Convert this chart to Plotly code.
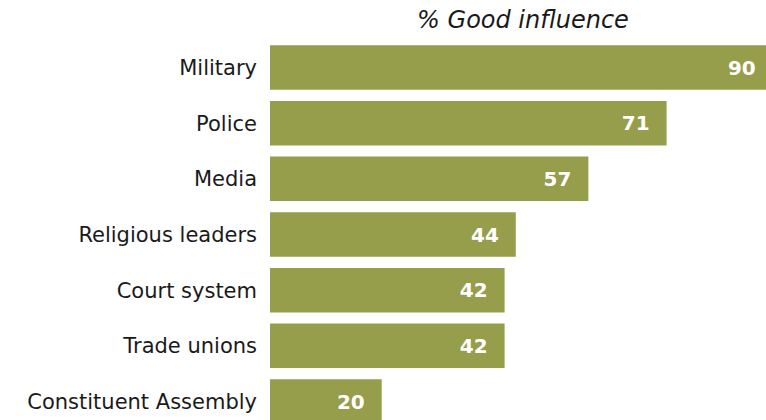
import plotly.graph_objects as go

# Share saying each institution has a good influence
categories = ["Military", "Police", "Media", "Religious leaders",
              "Court system", "Trade unions", "Constituent Assembly"]
good_influence = [90, 71, 57, 44, 42, 42, 20]

BAR_COLOR = "#969d4b"
FONT = "DejaVu Sans, Verdana, sans-serif"

# Trailing non-breaking spaces keep the value clear of the bar end
labels = [f"{v}&nbsp;&nbsp;" for v in good_influence]

fig = go.Figure(
    go.Bar(
        x=good_influence,
        y=categories,
        orientation="h",
        marker=dict(color=BAR_COLOR, line=dict(width=0)),
        width=0.8,
        text=labels,
        textposition="inside",
        insidetextanchor="end",
        textangle=0,
        insidetextfont=dict(family=FONT, size=20, color="white", weight="bold"),
        cliponaxis=True,
        hoverinfo="skip",
    )
)

fig.update_layout(
    width=766,
    height=420,
    margin=dict(l=270, r=0, t=40, b=0),
    paper_bgcolor="white",
    plot_bgcolor="white",
    showlegend=False,
    font=dict(family=FONT, color="#1a1a1a"),
    title=dict(
        text="<i>% Good influence</i>",
        font=dict(family=FONT, size=24, color="#1a1a1a"),
        x=523 / 766,
        xanchor="center",
        xref="container",
        y=1 - 20 / 420,
        yanchor="middle",
        yref="container",
    ),
)

fig.update_xaxes(
    range=[0, 88.8],
    visible=False,
    showgrid=False,
    zeroline=False,
)
fig.update_yaxes(
    categoryorder="array",
    categoryarray=categories,
    range=[6.332, -0.494],
    showgrid=False,
    zeroline=False,
    showline=False,
    ticks="",
    ticklabelstandoff=12,
    tickfont=dict(family=FONT, size=21, color="#1a1a1a"),
)

fig.write_html("out.html")
